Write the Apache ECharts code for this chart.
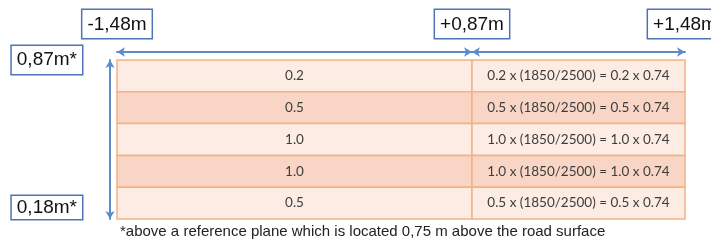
<!DOCTYPE html>
<html>
<head>
<meta charset="utf-8">
<script src="https://cdn.jsdelivr.net/npm/echarts@6/dist/echarts.min.js"></script>
<style>
html, body { margin: 0; padding: 0; background: #fff; }
#chart { width: 711px; height: 246px; }
</style>
</head>
<body>
<div id="chart"></div>
<script>
// lateral positions of the section edges (m)
const edgeValues = [-1.48, 0.87, 1.48];
const edgeLabels = ['-1,48m', '+0,87m', '+1,48m'];
// heights above the reference plane (m)
const heightValues = [0.87, 0.18];
const heightLabels = ['0,87m*', '0,18m*'];
// one factor per row, top to bottom
const rowNames = ['r1', 'r2', 'r3', 'r4', 'r5'];
const factors = ['0.2', '0.5', '1.0', '1.0', '0.5'];
const reduction = ['1850/2500', '0.74'];
const footnote = '*above a reference plane which is located 0,75 m above the road surface';

const blue = '#5b8cc8';
const boxLabel = {
  color: '#111',
  fontFamily: 'Liberation Sans',
  fontSize: 19,
  lineHeight: 21,
  backgroundColor: '#fff',
  borderColor: '#4f74b5',
  borderWidth: 1.5,
  padding: [4, 5, 3, 5]
};

function edgeLabel(v) {
  const i = edgeValues.indexOf(v);
  return i < 0 ? '' : edgeLabels[i];
}
function heightLabel(v) {
  const i = heightValues.indexOf(v);
  return i < 0 ? '' : heightLabels[i];
}

const leftTexts = factors.slice();
const rightTexts = factors.map(f => f + ' x (' + reduction[0] + ') = ' + f + ' x ' + reduction[1]);

const leftCells = factors.map((f, i) => [edgeValues[0], edgeValues[1], i]);
const rightCells = factors.map((f, i) => [edgeValues[1], edgeValues[2], i]);

function cellRenderer(texts) {
  return function (params, api) {
    const row = api.value(2);
    const a = api.coord([api.value(0), row]);
    const b = api.coord([api.value(1), row]);
    const h = api.size([0, 1])[1];
    return {
      type: 'rect',
      shape: { x: a[0], y: a[1] - h / 2, width: b[0] - a[0], height: h },
      style: {
        fill: row % 2 ? '#f8d5c5' : '#fcece4',
        stroke: '#f4b183',
        lineWidth: 1.5
      },
      textContent: {
        style: { text: texts[params.dataIndex], fill: '#3d3d3d', font: '13.5px Lato' }
      },
      textConfig: { position: 'inside' }
    };
  };
}

function xAxisFor(grid, min, max, labels) {
  return {
    type: 'value',
    gridIndex: grid,
    position: 'top',
    offset: 8,
    min: min,
    max: max,
    axisLine: {
      show: true,
      symbol: ['arrow', 'arrow'],
      symbolSize: [7, 8],
      lineStyle: { color: blue, width: 2 }
    },
    axisTick: { show: false },
    splitLine: { show: false },
    axisLabel: Object.assign({
      customValues: labels,
      margin: 14,
      formatter: edgeLabel
    }, boxLabel)
  };
}

const chart = echarts.init(document.getElementById('chart'));
chart.setOption({
  animation: false,
  title: {
    text: footnote,
    left: 115,
    top: 219,
    textStyle: { fontSize: 15, fontWeight: 'normal', color: '#222', fontFamily: 'Liberation Sans' }
  },
  grid: [
    { left: 117, top: 60, width: 355, height: 159, outerBoundsMode: 'none', containLabel: false },
    { left: 472, top: 60, width: 213, height: 159, outerBoundsMode: 'none', containLabel: false }
  ],
  xAxis: [
    xAxisFor(0, edgeValues[0], edgeValues[1], [edgeValues[0], edgeValues[1]]),
    xAxisFor(1, edgeValues[1], edgeValues[2], [edgeValues[2]])
  ],
  yAxis: [
    { type: 'category', gridIndex: 0, data: rowNames, inverse: true, show: false },
    {
      type: 'value',
      gridIndex: 0,
      position: 'left',
      offset: 7,
      min: heightValues[1],
      max: heightValues[0],
      axisLine: {
        show: true,
        symbol: ['arrow', 'arrow'],
        symbolSize: [7, 8],
        lineStyle: { color: blue, width: 2 }
      },
      axisTick: { show: false },
      splitLine: { show: false },
      axisLabel: Object.assign({
        customValues: [heightValues[0]],
        margin: 28,
        verticalAlign: 'middle',
        formatter: heightLabel
      }, boxLabel)
    },
    {
      type: 'value',
      gridIndex: 0,
      position: 'left',
      offset: 7,
      min: heightValues[1],
      max: heightValues[0],
      axisLine: { show: false },
      axisTick: { show: false },
      splitLine: { show: false },
      axisLabel: Object.assign({}, boxLabel, {
        customValues: [heightValues[1]],
        margin: 28,
        verticalAlign: 'bottom',
        padding: [1, 5, 1, 5],
        formatter: heightLabel
      })
    },
    { type: 'category', gridIndex: 1, data: rowNames, inverse: true, show: false }
  ],
  series: [
    {
      type: 'custom',
      xAxisIndex: 0,
      yAxisIndex: 0,
      encode: { x: [0, 1], y: 2 },
      renderItem: cellRenderer(leftTexts),
      data: leftCells
    },
    {
      type: 'custom',
      xAxisIndex: 1,
      yAxisIndex: 3,
      encode: { x: [0, 1], y: 2 },
      renderItem: cellRenderer(rightTexts),
      data: rightCells
    }
  ]
});
</script>
</body>
</html>
